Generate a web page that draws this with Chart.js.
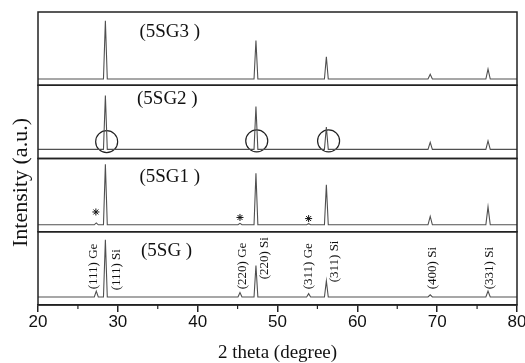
<!DOCTYPE html>
<html>
<head>
<meta charset="utf-8">
<script src="https://cdn.jsdelivr.net/npm/chart.js@4.4.1/dist/chart.umd.min.js"></script>
<style>
  html, body { margin: 0; padding: 0; background: #fff; }
  #wrap { width: 525px; height: 363px; }
</style>
</head>
<body>
<div id="wrap"><canvas id="xrd"></canvas></div>
<script>
// 2 theta grid shared by the four patterns (degrees)
const twoTheta = [20, 27.05, 27.3, 27.55, 28.2, 28.44, 28.68, 45.05, 45.3, 45.55, 47.06, 47.3, 47.54,
  53.65, 53.9, 54.15, 55.88, 56.12, 56.36, 68.85, 69.13, 69.4, 76.1, 76.37, 76.65, 80];

// intensity, in % of each panel height
const sg3 = [8.5, 8.5, 8.5, 8.5, 8.5, 88, 8.5, 8.5, 8.5, 8.5, 8.5, 61, 8.5, 8.5, 8.5, 8.5, 8.5, 39, 8.5, 8.5, 15, 8.5, 8.5, 22, 8.5, 8.5];
const sg2 = [12.5, 12.5, 12.5, 12.5, 12.5, 86, 12.5, 12.5, 12.5, 12.5, 12.5, 71, 12.5, 12.5, 12.5, 12.5, 12.5, 43, 12.5, 12.5, 22, 12.5, 12.5, 24, 12.5, 12.5];
const sg1 = [9.5, 9.5, 12, 9.5, 9.5, 92, 9.5, 9.5, 11.5, 9.5, 9.5, 80, 9.5, 9.5, 11, 9.5, 9.5, 64, 9.5, 9.5, 21, 9.5, 9.5, 34, 9.5, 9.5];
const sg0 = [11, 11, 19, 11, 11, 89, 11, 11, 17, 11, 11, 54, 11, 11, 15.5, 11, 11, 33, 11, 11, 14, 11, 11, 19, 11, 11];

const panelNames = ["(5SG3 )", "(5SG2 )", "(5SG1 )", "(5SG )"];
const panelNameX = [32.7, 32.4, 32.7, 32.9];
const panelNameY = [72, 81, 75, 74];

// circled peaks in 5SG2
const circleX = [28.6, 47.4, 56.4];
const circleY = [23, 24, 24];
// Ge impurity marks in 5SG1
const starX = [27.25, 45.3, 53.9];
const starY = [27, 19.5, 18];

// reflection labels on 5SG (rotated)
const hklText = ["(111) Ge", "(111) Si", "(220) Ge", "(220) Si", "(311) Ge", "(311) Si", "(400) Si", "(331) Si"];
const hklX = [26.9, 29.9, 45.6, 48.4, 53.9, 57.1, 69.4, 76.6];
const hklY = [21.5, 20, 21.5, 35, 21.5, 31, 21.5, 21.5];

const minorTicks = [25, 35, 45, 55, 65, 75];
const panelIds = ["yA", "yB", "yC", "yD"];

function pattern(values, axis) {
  return {
    type: "line",
    data: twoTheta.map((t, i) => ({ x: t, y: values[i] })),
    yAxisID: axis,
    borderColor: "#505050",
    borderWidth: 1.1,
    pointRadius: 0,
    tension: 0
  };
}

function panelAxis(weight) {
  return {
    type: "linear",
    stack: "xrd",
    stackWeight: 1,
    weight: weight,
    min: 0,
    max: 100,
    ticks: { display: false },
    grid: { display: false, drawTicks: false },
    border: { display: false },
    afterFit(scale) { scale.width = 0; }
  };
}

const framesPlugin = {
  id: "frames",
  afterDatasetsDraw(chart) {
    const { ctx, chartArea, scales } = chart;
    ctx.save();
    ctx.strokeStyle = "#222";
    ctx.lineWidth = 1.5;
    panelIds.forEach((id) => {
      const s = scales[id];
      ctx.strokeRect(chartArea.left, s.top, chartArea.right - chartArea.left, s.bottom - s.top);
    });
    // minor ticks on the 2 theta axis
    ctx.lineWidth = 1.2;
    minorTicks.forEach((v) => {
      const px = scales.x.getPixelForValue(v);
      ctx.beginPath();
      ctx.moveTo(px, chartArea.bottom);
      ctx.lineTo(px, chartArea.bottom + 4);
      ctx.stroke();
    });
    ctx.restore();
  }
};

const textPlugin = {
  id: "texts",
  afterDraw(chart) {
    const { ctx, chartArea, scales } = chart;
    const x = scales.x;
    ctx.save();
    ctx.fillStyle = "#111";
    ctx.font = "19px 'Liberation Serif', serif";
    ctx.textAlign = "left";
    ctx.textBaseline = "middle";
    panelNames.forEach((name, i) => {
      ctx.fillText(name, x.getPixelForValue(panelNameX[i]), scales[panelIds[i]].getPixelForValue(panelNameY[i]));
    });

    ctx.font = "13px 'Liberation Serif', serif";
    hklText.forEach((t, i) => {
      ctx.save();
      ctx.translate(x.getPixelForValue(hklX[i]), scales.yD.getPixelForValue(hklY[i]));
      ctx.rotate(-Math.PI / 2);
      ctx.textAlign = "left";
      ctx.fillText(t, 0, 0);
      ctx.restore();
    });

    ctx.save();
    ctx.font = "22px 'Liberation Serif', serif";
    ctx.translate(21, (chartArea.top + chartArea.bottom) / 2 + 24);
    ctx.rotate(-Math.PI / 2);
    ctx.textAlign = "center";
    ctx.fillText("Intensity (a.u.)", 0, 0);
    ctx.restore();
    ctx.restore();
  }
};

new Chart(document.getElementById("xrd"), {
  data: {
    datasets: [
      pattern(sg3, "yA"),
      pattern(sg2, "yB"),
      pattern(sg1, "yC"),
      pattern(sg0, "yD"),
      {
        type: "scatter",
        data: circleX.map((v, i) => ({ x: v, y: circleY[i] })),
        yAxisID: "yB",
        pointStyle: "circle",
        pointRadius: 11,
        borderColor: "#222",
        borderWidth: 1.2,
        backgroundColor: "rgba(0,0,0,0)"
      },
      {
        type: "scatter",
        data: starX.map((v, i) => ({ x: v, y: starY[i] })),
        yAxisID: "yC",
        pointStyle: "star",
        pointRadius: 3.5,
        borderColor: "#111",
        borderWidth: 1
      }
    ]
  },
  plugins: [framesPlugin, textPlugin],
  options: {
    responsive: true,
    maintainAspectRatio: false,
    animation: false,
    layout: { autoPadding: false, padding: { left: 38, right: 8, top: 12, bottom: 0 } },
    plugins: {
      legend: { display: false },
      tooltip: { enabled: false }
    },
    scales: {
      x: {
        type: "linear",
        position: "bottom",
        min: 20,
        max: 80,
        ticks: {
          stepSize: 10,
          color: "#111",
          padding: 0,
          font: { family: "'Liberation Sans', Arial, sans-serif", size: 17 }
        },
        grid: { display: true, drawOnChartArea: false, drawTicks: true, tickLength: 7, color: "#222", lineWidth: 1.5 },
        border: { display: true, color: "#222", width: 1.5 },
        title: {
          display: true,
          text: "2 theta (degree)",
          color: "#111",
          font: { family: "'Liberation Serif', serif", size: 19 },
          padding: { top: 5, bottom: -1.5 }
        },
        afterFit(scale) {
          scale.height = 58;
          scale.paddingLeft = 0;
          scale.paddingRight = 0;
        }
      },
      yA: panelAxis(4),
      yB: panelAxis(3),
      yC: panelAxis(2),
      yD: panelAxis(1)
    }
  }
});
</script>
</body>
</html>
